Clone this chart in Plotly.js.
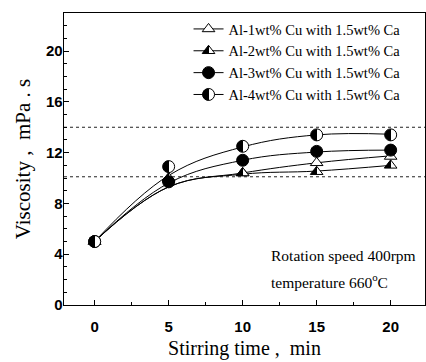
<!DOCTYPE html>
<html>
<head>
<meta charset="utf-8">
<script src="https://cdn.plot.ly/plotly-3.0.1.min.js"></script>
<style>html,body{margin:0;padding:0;background:#fff}#gd{width:426px;height:362px}</style>
</head>
<body>
<div id="gd"></div>
<script>
// Stirring time (min)
var times = [0, 5, 10, 15, 20];
// Measured viscosity (mPa.s), marker values
var cu1 = [5.0, 9.9, 10.4, 11.2, 11.7];
var cu2 = [5.0, 10.0, 10.4, 10.5, 11.0];
var cu3 = [5.0, 9.7, 11.4, 12.1, 12.2];
var cu4 = [5.0, 10.9, 12.5, 13.4, 13.4];
// Fitted curve values read at the same times
var fit1 = [5.0, 9.3, 10.4, 11.2, 11.75];
var fit2 = [5.0, 9.3, 10.3, 10.55, 11.0];
var fit3 = [5.0, 9.6, 11.4, 12.05, 12.2];
var fit4 = [5.0, 10.2, 12.45, 13.4, 13.45];
var seriesNames = [
  'Al-1wt% Cu with 1.5wt% Ca',
  'Al-2wt% Cu with 1.5wt% Ca',
  'Al-3wt% Cu with 1.5wt% Ca',
  'Al-4wt% Cu with 1.5wt% Ca'
];
var refLevels = [14, 10.1];
var noteLines = ['Rotation speed 400rpm', 'temperature 660<sup>o</sup>C'];

var serif = 'Liberation Serif, Times New Roman, serif';
var sans = 'Liberation Sans, Arial, sans-serif';

var vals = [cu1, cu2, cu3, cu4];
var fits = [fit1, fit2, fit3, fit4];
var markers = [
  {symbol: 'triangle-up', color: '#ffffff', size: 11, line: {color: '#000', width: 1}},
  {symbol: 'triangle-up', color: '#000000', size: 11, line: {color: '#000', width: 1}, gradient: {type: 'horizontal', color: '#ffffff'}},
  {symbol: 'circle', color: '#000000', size: 12, line: {color: '#000', width: 1}},
  {symbol: 'circle', color: '#000000', size: 12, line: {color: '#000', width: 1}, gradient: {type: 'horizontal', color: '#ffffff'}}
];

// interleave gaps so marker traces draw no segments but legend shows a line
function withGaps(arr) {
  var out = [];
  arr.forEach(function (v, i) { if (i) out.push(null); out.push(v); });
  return out;
}

var traces = [];
for (var i = 0; i < 4; i++) {
  traces.push({
    x: times, y: fits[i], mode: 'lines', type: 'scatter',
    line: {color: '#000', width: 1, shape: 'spline', smoothing: 1.1},
    showlegend: false, hoverinfo: 'skip'
  });
}
for (var j = 0; j < 4; j++) {
  traces.push({
    x: withGaps(times), y: withGaps(vals[j]), mode: 'lines+markers', type: 'scatter',
    connectgaps: false, name: seriesNames[j],
    line: {color: '#000', width: 1},
    marker: markers[j]
  });
}

var shapes = refLevels.map(function (v) {
  return {type: 'line', xref: 'paper', x0: 0, x1: 1, yref: 'y', y0: v, y1: v,
          line: {color: '#222', width: 1, dash: 'dot'}, layer: 'below'};
});

var layout = {
  width: 426, height: 362,
  margin: {l: 64, r: 1, t: 13, b: 57},
  paper_bgcolor: '#fff', plot_bgcolor: '#fff',
  showlegend: true,
  legend: {x: 0.345, xanchor: 'left', y: 1.0, yanchor: 'top',
           font: {family: serif, size: 14.5, color: '#000'},
           bgcolor: 'rgba(0,0,0,0)', borderwidth: 0, tracegroupgap: 0, itemwidth: 30},
  xaxis: {
    range: [-2.07, 22.32], tickvals: times, ticktext: times.map(String),
    ticks: 'inside', ticklen: 5, tickwidth: 1, tickcolor: '#000',
    minor: {dtick: 2.5, tick0: 0, ticks: 'inside', ticklen: 3, tickcolor: '#000'},
    showline: true, linecolor: '#000', linewidth: 1.3, mirror: true,
    showgrid: false, zeroline: false, ticklabelstandoff: 8,
    tickfont: {family: sans, size: 15, color: '#000', weight: 'bold'},
    title: {text: 'Stirring time , &nbsp;min', font: {family: serif, size: 20, color: '#000'}, standoff: 6}
  },
  yaxis: {
    range: [0, 23], tickvals: [0, 4, 8, 12, 16, 20],
    ticks: 'inside', ticklen: 5, tickwidth: 1, tickcolor: '#000',
    minor: {dtick: 1, tick0: 0, ticks: 'inside', ticklen: 3, tickcolor: '#000'},
    showline: true, linecolor: '#000', linewidth: 1.3, mirror: true,
    showgrid: false, zeroline: false, ticklabelstandoff: -3,
    tickfont: {family: sans, size: 15, color: '#000', weight: 'bold'},
    title: {text: 'Viscosity , &nbsp;mPa . s', font: {family: serif, size: 21, color: '#000'}, standoff: 9}
  },
  shapes: shapes,
  annotations: noteLines.map(function (t, n) {
    return {text: t, xref: 'paper', yref: 'paper', x: 0.568, y: 0.168 - n * 0.086,
            xanchor: 'left', yanchor: 'middle', showarrow: false,
            font: {family: serif, size: 15.5, color: '#000'}};
  })
};

Plotly.newPlot('gd', traces, layout, {staticPlot: true}).then(function () {
  // make horizontal gradients a sharp half/half split
  var stops = document.querySelectorAll('linearGradient stop');
  stops.forEach(function (s) { s.setAttribute('offset', '50%'); });
});
</script>
</body>
</html>
